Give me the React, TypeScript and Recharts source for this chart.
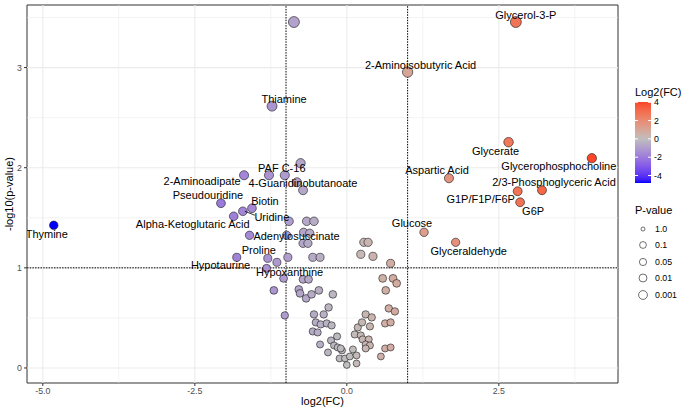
import React from "react";
import {
  ReferenceArea,
  ReferenceLine,
  Scatter,
  ScatterChart,
  XAxis,
  YAxis,
} from "recharts";

const FONT = '"Liberation Sans", Arial, Helvetica, sans-serif';

// labelled metabolites: log2 fold change and -log10(p)
const labelledNames = [
  "Thymine",
  "Glycerol-3-P",
  "2-Aminoisobutyric Acid",
  "Thiamine",
  "PAF C-16",
  "4-Guanidinobutanoate",
  "2-Aminoadipate",
  "Pseudouridine",
  "Biotin",
  "Uridine",
  "Alpha-Ketoglutaric Acid",
  "Adenylosuccinate",
  "Proline",
  "Hypotaurine",
  "Hypoxanthine",
  "Aspartic Acid",
  "Glycerate",
  "Glycerophosphocholine",
  "2/3-Phosphoglyceric Acid",
  "G1P/F1P/F6P",
  "G6P",
  "Glucose",
  "Glyceraldehyde",
];
const labelledFC = [
  -4.82, 2.78, 1.0, -1.23, -1.02, -0.72, -1.69, -2.07, -1.56, -1.71, -1.86,
  -1.6, -1.81, -1.32, -1.04, 1.68, 2.66, 4.03, 3.21, 2.81, 2.85, 1.27, 1.79,
];
const labelledP = [
  1.425, 3.455, 2.955, 2.615, 1.925, 1.775, 1.925, 1.645, 1.595, 1.565, 1.515,
  1.325, 1.105, 0.995, 0.895, 1.895, 2.255, 2.095, 1.775, 1.765, 1.655, 1.355,
  1.255,
];

// remaining metabolites (unlabelled)
const otherFC = [
  -0.87, -1.28, -0.76, -0.82, -0.95, -0.66, -0.54, -0.99, -0.71, -0.61, -0.72,
  -0.64, -0.97, -0.56, -0.44, -1.3, -1.15, -0.72, -0.63, -1.2, -0.79, -0.77,
  -0.67, -0.58, -0.46, -0.23, -0.3, -1.02, -0.54, -0.38, -0.51, -0.43, -0.33,
  -0.25, -0.56, -0.48, -0.16, -0.26, -0.44, -0.31, -0.21, -0.15, -0.08, -0.12,
  -0.03, -0.1, 0.0, 0.05, 0.1, 0.16, 0.13, 0.18, 0.23, 0.26, 0.36, 0.31, 0.38,
  0.31, 0.16, 0.25, 0.38, 0.31, 0.41, 0.63, 0.72, 0.69, 0.79, 0.63, 0.72, 0.56,
  0.64, 0.59, 0.76, 0.82, 0.72, 0.23, 0.43, 0.28, 0.35,
];
const otherP = [
  3.455, 1.925, 2.045, 1.855, 1.465, 1.465, 1.465, 1.325, 1.355, 1.345, 1.245,
  1.245, 1.105, 1.105, 1.105, 1.095, 1.055, 0.885, 0.885, 0.775, 0.785, 0.745,
  0.695, 0.735, 0.775, 0.735, 0.605, 0.525, 0.535, 0.535, 0.455, 0.435, 0.445,
  0.425, 0.365, 0.355, 0.315, 0.275, 0.235, 0.155, 0.225, 0.205, 0.175, 0.095,
  0.095, 0.195, 0.03, 0.115, 0.185, 0.045, 0.335, 0.405, 0.325, 0.285, 0.285,
  0.235, 0.225, 0.195, 0.125, 0.455, 0.415, 0.535, 0.505, 0.445, 0.455, 0.595,
  0.565, 0.195, 0.205, 0.115, 0.775, 0.895, 0.895, 0.845, 1.045, 1.135, 1.115,
  1.255, 1.255,
];

const xTicks = [-5, -2.5, 0, 2.5];
const yTicks = [0, 1, 2, 3];
const xMinor = [-3.75, -1.25, 1.25, 3.75];
const yMinor = [0.5, 1.5, 2.5, 3.5];
const fcCutoffs = [-1, 1];
const pCutoff = 1;
const legendFcTicks = [4, 2, 0, -2, -4];
const legendPValues = ["1.0", "0.1", "0.05", "0.01", "0.001"];

// where each label sits relative to its point (text centre, px)
const labelOffsets: Record<string, [number, number]> = {
  Thymine: [-7, 9],
  "Glycerol-3-P": [10, -7],
  "2-Aminoisobutyric Acid": [13, -7],
  Thiamine: [12, -7],
  "PAF C-16": [-3, -7],
  "4-Guanidinobutanoate": [0, -7],
  "2-Aminoadipate": [-42, 6],
  Pseudouridine: [-13, -8],
  Biotin: [13, -7],
  Uridine: [29, 6],
  "Alpha-Ketoglutaric Acid": [-41, 8],
  Adenylosuccinate: [47, 1],
  Proline: [22, -7],
  Hypotaurine: [-46, -3],
  Hypoxanthine: [6, -6],
  "Aspartic Acid": [-12, -8],
  Glycerate: [-13, 9],
  Glycerophosphocholine: [-33, 8],
  "2/3-Phosphoglyceric Acid": [12, -8],
  "G1P/F1P/F6P": [-37, 8],
  G6P: [13, 9],
  Glucose: [-12, -9],
  Glyceraldehyde: [13, 9],
};

const labelled = labelledNames.map((name, i) => ({
  name,
  x: labelledFC[i],
  y: labelledP[i],
}));
const others = otherFC.map((x, i) => ({ name: "", x, y: otherP[i] }));
const allPoints = [...others, ...labelled];

const fcMax = Math.max(...allPoints.map((p) => p.x));
const fcMin = Math.min(...allPoints.map((p) => p.x));
const fcAbs = Math.max(Math.abs(fcMax), Math.abs(fcMin));

// ---- blue / grey / red diverging scale, mixed in CIE Lab ----
const WP = [0.95047, 1, 1.08883];
const toLin = (c: number) => {
  const v = c / 255;
  return v <= 0.04045 ? v / 12.92 : Math.pow((v + 0.055) / 1.055, 2.4);
};
const fromLin = (v: number) => {
  const c = v <= 0.0031308 ? 12.92 * v : 1.055 * Math.pow(v, 1 / 2.4) - 0.055;
  return Math.round(Math.max(0, Math.min(1, c)) * 255);
};
function rgbToLab([r, g, b]: number[]) {
  const R = toLin(r), G = toLin(g), B = toLin(b);
  const X = (0.4124 * R + 0.3576 * G + 0.1805 * B) / WP[0];
  const Y = (0.2126 * R + 0.7152 * G + 0.0722 * B) / WP[1];
  const Z = (0.0193 * R + 0.1192 * G + 0.9505 * B) / WP[2];
  const f = (t: number) => (t > 0.008856 ? Math.cbrt(t) : 7.787 * t + 16 / 116);
  const fx = f(X), fy = f(Y), fz = f(Z);
  return [116 * fy - 16, 500 * (fx - fy), 200 * (fy - fz)];
}
function labToRgb([L, a, b]: number[]) {
  const fy = (L + 16) / 116;
  const fx = fy + a / 500;
  const fz = fy - b / 200;
  const inv = (t: number) => (t ** 3 > 0.008856 ? t ** 3 : (t - 16 / 116) / 7.787);
  const X = inv(fx) * WP[0], Y = inv(fy) * WP[1], Z = inv(fz) * WP[2];
  const R = 3.2406 * X - 1.5372 * Y - 0.4986 * Z;
  const G = -0.9689 * X + 1.8758 * Y + 0.0415 * Z;
  const B = 0.0557 * X - 0.204 * Y + 1.057 * Z;
  return `rgb(${fromLin(R)},${fromLin(G)},${fromLin(B)})`;
}
const LOW = rgbToLab([0, 0, 255]);
const MID = rgbToLab([190, 190, 190]);
const HIGH = rgbToLab([255, 0, 0]);

function fcColor(v: number) {
  const t = Math.max(-1, Math.min(1, v / fcAbs));
  const end = t < 0 ? LOW : HIGH;
  const k = Math.abs(t);
  return labToRgb(MID.map((m, i) => m + (end[i] - m) * k));
}

const pointRadius = (y: number) => 3.4 + 0.6 * y;

const Dot = (props: any) => {
  const { cx, cy, payload } = props;
  return (
    <circle
      cx={cx}
      cy={cy}
      r={pointRadius(payload.y)}
      fill={fcColor(payload.x)}
      stroke="#1a1a1a"
      strokeWidth={0.6}
    />
  );
};

const PointLabel = (props: any) => {
  const { cx, cy, payload } = props;
  const [dx, dy] = labelOffsets[payload.name] ?? [0, -8];
  return (
    <g>
      {payload.name === "Uridine" && (
        <line
          x1={cx + 2}
          y1={cy}
          x2={cx + dx - 17}
          y2={cy + dy - 2}
          stroke="#000"
          strokeWidth={0.8}
        />
      )}
      <text
        x={cx + dx}
        y={cy + dy}
        dy="0.35em"
        textAnchor="middle"
        fontSize={11}
        fontFamily={FONT}
        fill="#000"
      >
        {payload.name}
      </text>
    </g>
  );
};

function KeyPanel() {
  const barX = 635, barW = 16, barTop = 102, barH = 81;
  const yOf = (v: number) => barTop + ((fcMax - v) / (fcMax - fcMin)) * barH;
  const stops = Array.from({ length: 31 }, (_, i) => {
    const v = fcMax - ((fcMax - fcMin) * i) / 30;
    return { off: i / 30, c: fcColor(v) };
  });
  const itemY = [229, 245, 262, 278, 295];
  return (
    <svg
      width={690}
      height={414}
      style={{ position: "absolute", left: 0, top: 0, pointerEvents: "none" }}
    >
      <defs>
        <linearGradient id="fcbar" x1="0" y1="0" x2="0" y2="1">
          {stops.map((s) => (
            <stop key={s.off} offset={s.off} stopColor={s.c} />
          ))}
        </linearGradient>
      </defs>
      <text x={barX} y={96} fontSize={11} fontFamily={FONT} fill="#000">
        Log2(FC)
      </text>
      <rect x={barX} y={barTop} width={barW} height={barH} fill="url(#fcbar)" />
      {legendFcTicks.map((t) => (
        <g key={t}>
          <line x1={barX} x2={barX + 3} y1={yOf(t)} y2={yOf(t)} stroke="#fff" />
          <line x1={barX + barW - 3} x2={barX + barW} y1={yOf(t)} y2={yOf(t)} stroke="#fff" />
          <text
            x={barX + barW + 3}
            y={yOf(t)}
            dy="0.35em"
            fontSize={8.8}
            fontFamily={FONT}
            fill="#000"
          >
            {t}
          </text>
        </g>
      ))}
      <text x={barX} y={214} fontSize={11} fontFamily={FONT} fill="#000">
        P-value
      </text>
      {legendPValues.map((p, i) => (
        <g key={p}>
          <circle
            cx={643}
            cy={itemY[i]}
            r={2 + 1.4 * Math.sqrt(-Math.log10(Number(p)))}
            fill="none"
            stroke="#333"
            strokeWidth={0.7}
          />
          <text x={655} y={itemY[i]} dy="0.35em" fontSize={8.8} fontFamily={FONT} fill="#000">
            {p}
          </text>
        </g>
      ))}
    </svg>
  );
}

const xDomain: [number, number] = [-5.26, 4.46];
const yDomain: [number, number] = [-0.15, 3.625];

export default function App() {
  return (
    <div
      style={{
        position: "absolute",
        left: 0,
        top: 0,
        width: 690,
        height: 414,
        background: "#fff",
        fontFamily: FONT,
      }}
    >
      <ScatterChart
        width={690}
        height={414}
        margin={{ top: 5, right: 72, bottom: 0, left: 0 }}
      >
        <XAxis
          type="number"
          dataKey="x"
          domain={xDomain}
          allowDataOverflow
          ticks={xTicks}
          tickFormatter={(v: number) => v.toFixed(1)}
          axisLine={false}
          tickLine={{ stroke: "#333" }}
          tickSize={3}
          tick={{ fontSize: 8.8, fill: "#4D4D4D", fontFamily: FONT }}
          height={31}
          label={{
            value: "log2(FC)",
            position: "insideBottom",
            offset: 9,
            style: { fontSize: 11, fill: "#000", fontFamily: FONT },
          }}
        />
        <YAxis
          type="number"
          dataKey="y"
          domain={yDomain}
          allowDataOverflow
          ticks={yTicks}
          axisLine={false}
          tickLine={{ stroke: "#333" }}
          tickSize={3}
          tick={{ fontSize: 8.8, fill: "#4D4D4D", fontFamily: FONT }}
          width={27}
          label={{
            value: "-log10(p-value)",
            angle: -90,
            position: "insideLeft",
            offset: 9,
            style: { fontSize: 11, fill: "#000", fontFamily: FONT, textAnchor: "middle" },
          }}
        />
        {xMinor.map((v) => (
          <ReferenceLine key={`xm${v}`} x={v} stroke="#EBEBEB" strokeWidth={0.6} />
        ))}
        {yMinor.map((v) => (
          <ReferenceLine key={`ym${v}`} y={v} stroke="#EBEBEB" strokeWidth={0.6} />
        ))}
        {xTicks.map((v) => (
          <ReferenceLine key={`x${v}`} x={v} stroke="#EBEBEB" strokeWidth={1.1} />
        ))}
        {yTicks.map((v) => (
          <ReferenceLine key={`y${v}`} y={v} stroke="#EBEBEB" strokeWidth={1.1} />
        ))}
        <Scatter data={allPoints} shape={Dot} isAnimationActive={false} />
        {fcCutoffs.map((v) => (
          <ReferenceLine key={`c${v}`} x={v} stroke="#000" strokeWidth={1} strokeDasharray="1.5 1.2" />
        ))}
        <ReferenceLine y={pCutoff} stroke="#000" strokeWidth={1} strokeDasharray="1.5 1.2" />
        <Scatter data={labelled} shape={PointLabel} isAnimationActive={false} />
        <ReferenceArea
          x1={xDomain[0]}
          x2={xDomain[1]}
          y1={yDomain[0]}
          y2={yDomain[1]}
          fill="none"
          stroke="#333"
          strokeWidth={1}
        />
      </ScatterChart>
      <KeyPanel />
    </div>
  );
}
